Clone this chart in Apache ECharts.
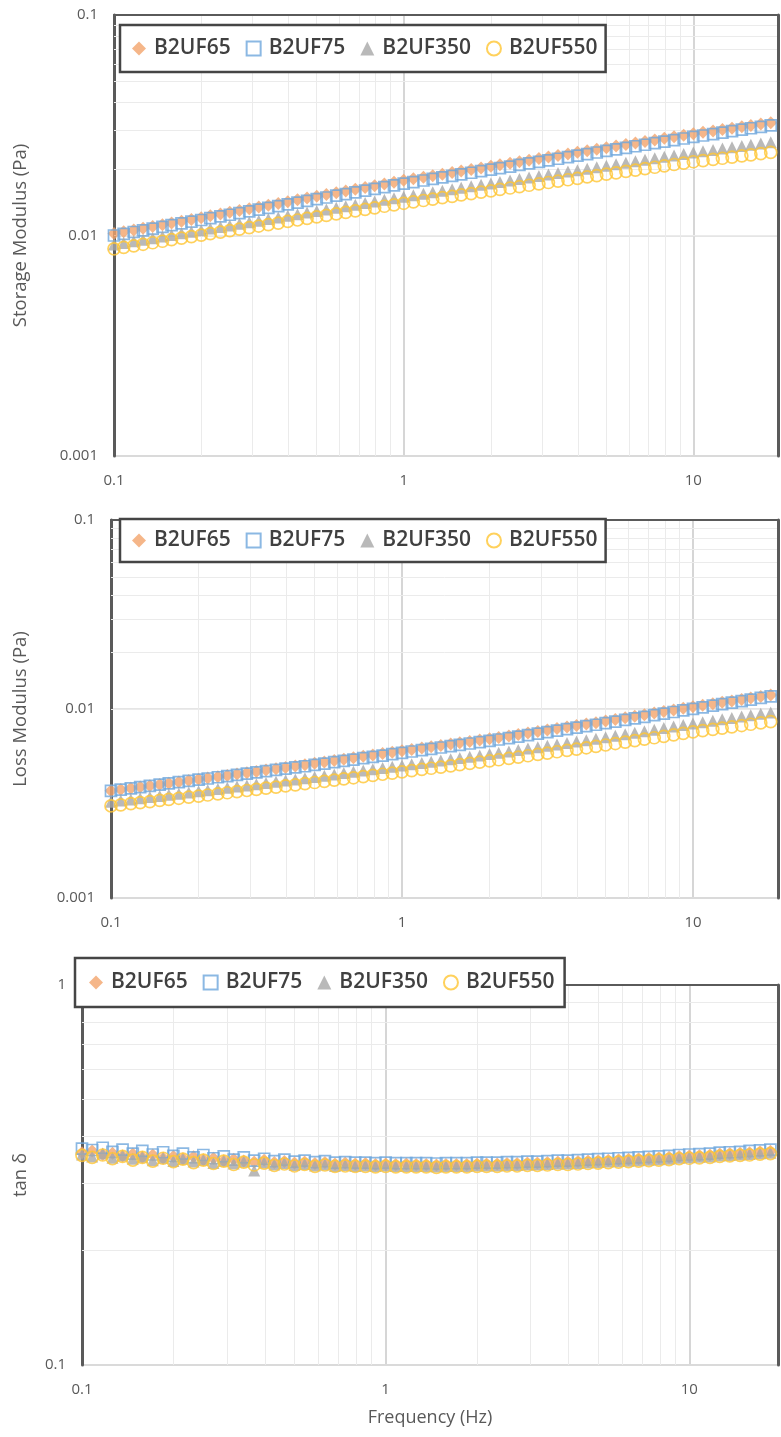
<!DOCTYPE html>
<html>
<head>
<meta charset="utf-8">
<script src="https://cdn.jsdelivr.net/npm/echarts@6/dist/echarts.min.js"></script>
<style>html,body{margin:0;padding:0;background:#fff}#c{width:781px;height:1437px}</style>
</head>
<body>
<div id="c"></div>
<script>
// Frequency (Hz)
const freq = [0.1,0.108,0.117,0.126,0.136,0.147,0.158,0.171,0.185,0.2,0.215,0.233,0.251,0.271,0.293,0.316,0.341,0.369,0.398,0.43,0.464,0.501,0.541,0.585,0.631,0.681,0.736,0.794,0.858,0.926,1,1.08,1.17,1.26,1.36,1.47,1.58,1.71,1.85,2,2.15,2.33,2.51,2.71,2.93,3.16,3.41,3.69,3.98,4.3,4.64,5.01,5.41,5.85,6.31,6.81,7.36,7.94,8.58,9.26,10,10.8,11.7,12.6,13.6,14.7,15.8,17.1,18.5];
const seriesNames = ['B2UF65','B2UF75','B2UF350','B2UF550'];

// Storage modulus (Pa)
const gp_B2UF65 = [0.0102,0.01039,0.01058,0.01078,0.01099,0.01119,0.0114,0.01161,0.01183,0.01205,0.01228,0.01251,0.01274,0.01298,0.01322,0.01347,0.01372,0.01398,0.01424,0.01451,0.01478,0.01505,0.01534,0.01562,0.01591,0.01621,0.01652,0.01682,0.01714,0.01746,0.01779,0.01808,0.01838,0.01868,0.01898,0.01929,0.01961,0.01993,0.02026,0.02059,0.02093,0.02127,0.02162,0.02197,0.02233,0.0227,0.02307,0.02345,0.02383,0.02422,0.02462,0.02502,0.02543,0.02585,0.02627,0.0267,0.02714,0.02758,0.02803,0.02849,0.02896,0.02938,0.0298,0.03024,0.03067,0.03112,0.03157,0.03203,0.03249];
const gp_B2UF75 = [0.01,0.01018,0.01037,0.01056,0.01075,0.01094,0.01114,0.01135,0.01155,0.01176,0.01198,0.0122,0.01242,0.01264,0.01287,0.01311,0.01335,0.01359,0.01384,0.01409,0.01435,0.01461,0.01487,0.01515,0.01542,0.0157,0.01599,0.01628,0.01658,0.01688,0.01719,0.01747,0.01776,0.01805,0.01834,0.01864,0.01895,0.01926,0.01958,0.0199,0.02022,0.02055,0.02089,0.02123,0.02158,0.02193,0.02229,0.02266,0.02303,0.02341,0.02379,0.02418,0.02458,0.02498,0.02539,0.0258,0.02623,0.02666,0.02709,0.02754,0.02799,0.02842,0.02885,0.02928,0.02973,0.03018,0.03064,0.0311,0.03158];
const gp_B2UF350 = [0.0091,0.009253,0.009408,0.009566,0.009727,0.00989,0.01006,0.01023,0.0104,0.01057,0.01075,0.01093,0.01111,0.0113,0.01149,0.01168,0.01188,0.01208,0.01228,0.01249,0.0127,0.01291,0.01313,0.01335,0.01357,0.0138,0.01403,0.01427,0.01451,0.01475,0.015,0.01523,0.01547,0.01571,0.01595,0.0162,0.01645,0.01671,0.01697,0.01723,0.0175,0.01777,0.01804,0.01832,0.01861,0.0189,0.01919,0.01949,0.01979,0.02009,0.02041,0.02072,0.02104,0.02137,0.0217,0.02204,0.02238,0.02273,0.02308,0.02344,0.0238,0.02412,0.02445,0.02478,0.02511,0.02545,0.0258,0.02615,0.0265];
const gp_B2UF550 = [0.0087,0.008839,0.00898,0.009124,0.00927,0.009418,0.009569,0.009722,0.009877,0.01004,0.0102,0.01036,0.01052,0.01069,0.01086,0.01104,0.01121,0.01139,0.01158,0.01176,0.01195,0.01214,0.01233,0.01253,0.01273,0.01294,0.01314,0.01335,0.01357,0.01378,0.014,0.01421,0.01441,0.01462,0.01484,0.01505,0.01527,0.01549,0.01572,0.01595,0.01618,0.01642,0.01666,0.0169,0.01714,0.01739,0.01765,0.0179,0.01816,0.01843,0.0187,0.01897,0.01924,0.01952,0.01981,0.0201,0.02039,0.02069,0.02099,0.02129,0.0216,0.02187,0.02213,0.0224,0.02268,0.02295,0.02323,0.02352,0.0238];

// Loss modulus (Pa)
const gpp_B2UF65 = [0.003692,0.00375,0.003808,0.003868,0.003928,0.00399,0.004052,0.004115,0.004179,0.004245,0.00431,0.004381,0.004452,0.004525,0.004599,0.004674,0.004751,0.004828,0.004907,0.004988,0.00507,0.005157,0.005246,0.005336,0.005428,0.005521,0.005616,0.005713,0.005811,0.005911,0.006013,0.006111,0.006212,0.006313,0.006417,0.006522,0.006629,0.006737,0.006848,0.00696,0.007074,0.007203,0.007333,0.007467,0.007602,0.00774,0.007881,0.008024,0.00817,0.008318,0.008469,0.008635,0.008804,0.008976,0.009152,0.009331,0.009514,0.0097,0.00989,0.01008,0.01028,0.01047,0.01066,0.01085,0.01104,0.01124,0.01144,0.01165,0.01186];
const gpp_B2UF75 = [0.00369,0.003746,0.003803,0.00386,0.003919,0.003978,0.004039,0.0041,0.004162,0.004225,0.004289,0.004353,0.004419,0.004486,0.004553,0.004622,0.004691,0.004762,0.004833,0.004906,0.004979,0.005061,0.005144,0.005229,0.005315,0.005402,0.005491,0.005582,0.005673,0.005767,0.005862,0.005958,0.006055,0.006154,0.006255,0.006357,0.006461,0.006567,0.006674,0.006783,0.006895,0.00702,0.007148,0.007278,0.00741,0.007545,0.007682,0.007821,0.007963,0.008108,0.008255,0.008417,0.008581,0.008749,0.008921,0.009095,0.009273,0.009455,0.00964,0.009828,0.01002,0.01021,0.01041,0.0106,0.01081,0.01101,0.01122,0.01144,0.01165];
const gpp_B2UF350 = [0.003231,0.003277,0.003323,0.00337,0.003418,0.003466,0.003515,0.003565,0.003616,0.003667,0.003719,0.003774,0.003829,0.003886,0.003943,0.004001,0.00406,0.00412,0.00418,0.004242,0.004304,0.004371,0.004439,0.004509,0.004579,0.00465,0.004723,0.004797,0.004871,0.004947,0.005025,0.005103,0.005182,0.005262,0.005344,0.005427,0.005511,0.005596,0.005683,0.005771,0.005861,0.005962,0.006066,0.006171,0.006277,0.006386,0.006497,0.006609,0.006723,0.00684,0.006958,0.007088,0.007221,0.007356,0.007494,0.007634,0.007777,0.007923,0.008071,0.008222,0.008377,0.00852,0.008666,0.008814,0.008964,0.009118,0.009273,0.009432,0.009593];
const gpp_B2UF550 = [0.003071,0.003112,0.003154,0.003196,0.003239,0.003282,0.003326,0.00337,0.003415,0.003461,0.003507,0.003556,0.003605,0.003655,0.003706,0.003758,0.00381,0.003863,0.003917,0.003971,0.004026,0.004084,0.004144,0.004204,0.004265,0.004326,0.004389,0.004453,0.004517,0.004583,0.004649,0.004718,0.004788,0.004859,0.004931,0.005005,0.005079,0.005155,0.005231,0.005309,0.005388,0.005476,0.005566,0.005657,0.005749,0.005843,0.005939,0.006036,0.006135,0.006235,0.006338,0.006451,0.006566,0.006683,0.006802,0.006923,0.007046,0.007171,0.007299,0.007429,0.007561,0.00768,0.007801,0.007924,0.008049,0.008176,0.008305,0.008436,0.008569];

// tan delta
const tan_B2UF65 = [0.362,0.366,0.358,0.361,0.355,0.359,0.352,0.357,0.350,0.354,0.349,0.353,0.347,0.350,0.345,0.348,0.344,0.342,0.346,0.341,0.343,0.340,0.342,0.339,0.341,0.338,0.340,0.338,0.339,0.337,0.338,0.337,0.338,0.337,0.337,0.336,0.337,0.337,0.337,0.338,0.338,0.338,0.339,0.339,0.340,0.340,0.341,0.342,0.342,0.343,0.344,0.345,0.346,0.347,0.348,0.349,0.350,0.351,0.352,0.354,0.355,0.356,0.357,0.359,0.360,0.361,0.362,0.364,0.365];
const tan_B2UF75 = [0.371,0.368,0.373,0.364,0.369,0.360,0.366,0.358,0.363,0.355,0.360,0.352,0.357,0.350,0.354,0.347,0.352,0.345,0.349,0.344,0.347,0.343,0.345,0.342,0.344,0.341,0.342,0.341,0.341,0.340,0.341,0.340,0.340,0.340,0.340,0.339,0.340,0.340,0.340,0.341,0.341,0.341,0.342,0.342,0.343,0.343,0.344,0.345,0.345,0.346,0.347,0.348,0.349,0.350,0.351,0.352,0.353,0.354,0.355,0.357,0.358,0.359,0.360,0.362,0.363,0.364,0.366,0.367,0.369];
const tan_B2UF350 = [0.358,0.354,0.360,0.351,0.356,0.349,0.353,0.346,0.351,0.344,0.349,0.343,0.347,0.340,0.345,0.339,0.343,0.325,0.341,0.337,0.340,0.336,0.338,0.335,0.337,0.334,0.336,0.334,0.335,0.334,0.335,0.334,0.334,0.334,0.334,0.333,0.334,0.334,0.334,0.335,0.335,0.335,0.336,0.336,0.337,0.337,0.338,0.339,0.339,0.340,0.341,0.342,0.343,0.344,0.345,0.346,0.347,0.348,0.349,0.351,0.352,0.353,0.354,0.356,0.357,0.358,0.359,0.361,0.362];
const tan_B2UF550 = [0.356,0.352,0.357,0.349,0.354,0.346,0.352,0.344,0.350,0.343,0.348,0.341,0.346,0.339,0.344,0.337,0.342,0.336,0.340,0.335,0.338,0.334,0.337,0.333,0.336,0.333,0.334,0.333,0.333,0.332,0.333,0.332,0.332,0.332,0.332,0.331,0.332,0.332,0.332,0.333,0.333,0.333,0.334,0.334,0.335,0.335,0.336,0.337,0.337,0.338,0.339,0.340,0.341,0.342,0.343,0.344,0.345,0.346,0.347,0.349,0.350,0.351,0.352,0.354,0.355,0.356,0.357,0.359,0.360];

// axis ticks
const xMinorTicks = [0.2,0.3,0.4,0.5,0.6,0.7,0.8,0.9,2,3,4,5,6,7,8,9];
const yMinorTicksModulus = [0.002,0.003,0.004,0.005,0.006,0.007,0.008,0.009,0.02,0.03,0.04,0.05,0.06,0.07,0.08,0.09];
const yMinorTicksTan = [0.2,0.3,0.4,0.5,0.6,0.7,0.8,0.9];
const yTitles = ['Storage Modulus (Pa)','Loss Modulus (Pa)','tan \u03b4'];
const xTitle = 'Frequency (Hz)';

const panelData = [
  [gp_B2UF65, gp_B2UF75, gp_B2UF350, gp_B2UF550],
  [gpp_B2UF65, gpp_B2UF75, gpp_B2UF350, gpp_B2UF550],
  [tan_B2UF65, tan_B2UF75, tan_B2UF350, tan_B2UF550]
];

const FONT = 'Open Sans';
const styles = [
  {symbol:'diamond', size:13, itemStyle:{color:'#F3A46C'}},
  {symbol:'rect', size:11, itemStyle:{color:'rgba(255,255,255,0)', borderColor:'#6EA6DC', borderWidth:1.7}},
  {symbol:'triangle', size:12, itemStyle:{color:'#A8A8A8'}},
  {symbol:'circle', size:12, itemStyle:{color:'rgba(255,255,255,0)', borderColor:'#FFC533', borderWidth:1.7}}
];
const legendIcons = ['diamond','rect','triangle','circle'];

const grids = [
  {left:114, top:15, width:664, height:441},
  {left:111, top:520, width:667, height:378},
  {left:82, top:985, width:696, height:380}
];
const yRanges = [[0.001,0.1],[0.001,0.1],[0.1,1]];
const xMax = 19.6;
const nameGaps = [84, 81, 52];

const xAxis = [], yAxis = [], series = [], legend = [];
grids.forEach((g, gi) => {
  xAxis.push({
    type:'log', logBase:10, gridIndex:gi, min:0.1, max:xMax,
    axisLine:{show:true, lineStyle:{color:'#d4d4d4', width:2}},
    axisTick:{show:false},
    axisLabel:{color:'#595959', fontFamily:FONT, fontSize:15, margin:17, showMaxLabel:false,
      formatter: v => (Math.abs(Math.log10(v) - Math.round(Math.log10(v))) < 1e-6) ? String(+v.toPrecision(3)) : ''},
    splitLine:{show:true, lineStyle:{color:'#c9c9c9', width:1.5}},
    name: gi === 2 ? xTitle : '', nameLocation:'middle', nameGap:44,
    nameTextStyle:{color:'#595959', fontFamily:FONT, fontSize:18},
    z:3
  });
  yAxis.push({
    type:'log', logBase:10, gridIndex:gi, min:yRanges[gi][0], max:yRanges[gi][1],
    axisLine:{show:true, lineStyle:{color:'#5a5a5a', width:3}},
    axisTick:{show:false},
    axisLabel:{color:'#595959', fontFamily:FONT, fontSize:15, margin:16},
    splitLine:{show:true, lineStyle:{color:'#dcdcdc', width:1.5}},
    name: yTitles[gi], nameLocation:'middle', nameGap:nameGaps[gi],
    nameTextStyle:{color:'#595959', fontFamily:FONT, fontSize:18.5},
    z:4
  });
  const ds = panelData[gi];
  // minor grid lines
  series.push({
    type:'line', xAxisIndex:gi, yAxisIndex:gi, data:[], silent:true, z:1,
    markLine:{silent:true, symbol:['none','none'], animation:false, label:{show:false},
      lineStyle:{color:'#ebebeb', width:1, type:'solid'},
      data: xMinorTicks.map(v => ({xAxis:v})).concat((gi === 2 ? yMinorTicksTan : yMinorTicksModulus).map(v => ({yAxis:v})))}
  });
  seriesNames.forEach((nm, si) => {
    series.push({
      type:'scatter', name:nm, xAxisIndex:gi, yAxisIndex:gi,
      data: freq.map((f, i) => [f, ds[si][i]]),
      symbol: styles[si].symbol, symbolSize: styles[si].size,
      itemStyle: styles[si].itemStyle, silent:true, z:10 + si
    });
  });
});
// border axes (top and right)
grids.forEach((g, gi) => {
  xAxis.push({type:'log', gridIndex:gi, min:0.1, max:xMax, position:'top',
    axisLine:{show:true, lineStyle:{color:'#5a5a5a', width:2}}, axisTick:{show:false},
    axisLabel:{show:false}, splitLine:{show:false}, z:5});
  yAxis.push({type:'log', gridIndex:gi, min:yRanges[gi][0], max:yRanges[gi][1], position:'right',
    axisLine:{show:true, lineStyle:{color:'#5a5a5a', width:3}}, axisTick:{show:false},
    axisLabel:{show:false}, splitLine:{show:false}, z:5});
});

const legendPos = [
  {left:120, top:25, padding:[13, 8, 13, 12]},
  {left:120, top:519, padding:[11, 8, 11, 12]},
  {left:75, top:958, padding:[14, 10, 14, 14]}
];
legendPos.forEach(p => {
  legend.push(Object.assign({
    orient:'horizontal', selectedMode:false, z:20,
    itemGap:15, itemWidth:14, itemHeight:14,
    backgroundColor:'#ffffff', borderColor:'#454545', borderWidth:2.5, borderRadius:0,
    textStyle:{fontFamily:FONT, fontSize:21, fontWeight:600, color:'#404040', padding:[0,0,0,3]},
    data: seriesNames.map((n, i) => ({name:n, icon:legendIcons[i]}))
  }, p));
});

const chart = echarts.init(document.getElementById('c'), null, {renderer:'canvas'});
chart.setOption({
  animation:false,
  backgroundColor:'#ffffff',
  grid: grids.map(g => Object.assign({containLabel:false}, g)),
  xAxis, yAxis, legend, series
});
</script>
</body>
</html>
